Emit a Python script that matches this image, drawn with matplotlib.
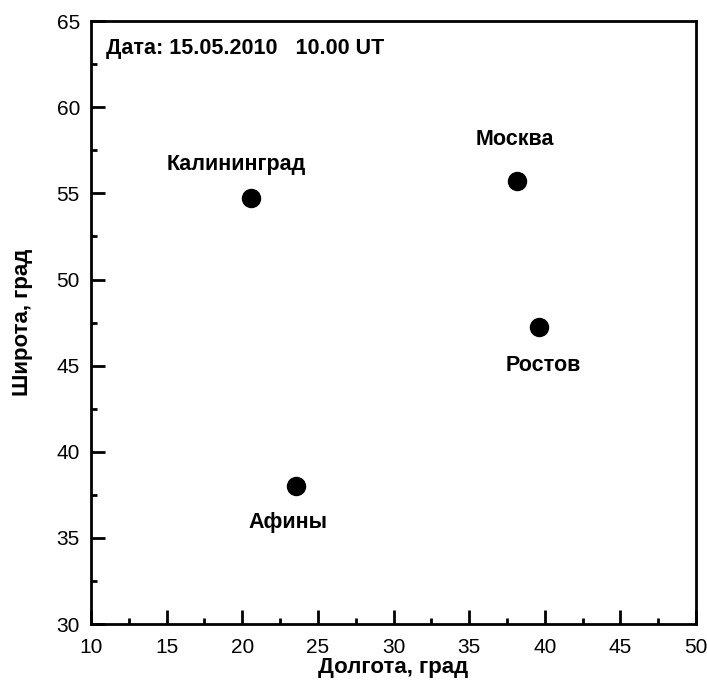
import matplotlib.pyplot as plt
from matplotlib.ticker import MultipleLocator

plt.rcParams['font.family'] = ['Liberation Sans', 'DejaVu Sans']

# cities: longitude, latitude
cities = ['Калининград', 'Москва', 'Ростов', 'Афины']
lon = [20.6, 38.15, 39.6, 23.55]
lat = [54.73, 55.7, 47.24, 38.0]
# label positions (data coords)
lab_x = [19.6, 38.0, 39.9, 23.0]
lab_y = [56.65, 58.1, 45.03, 35.9]

fig = plt.figure(figsize=(7.07, 6.82), dpi=100)
ax = fig.add_axes([0.1287, 0.085, 0.8558, 0.884])

ax.plot(lon, lat, 'o', color='black', markersize=13, linestyle='none')
for name, x, y in zip(cities, lab_x, lab_y):
    ax.text(x, y, name, ha='center', va='center', fontsize=15.5, fontweight='bold')

ax.text(11.0, 63.4, 'Дата: 15.05.2010   10.00 UT', ha='left', va='center',
        fontsize=15.5, fontweight='bold')

ax.set_xlim(10, 50)
ax.set_ylim(30, 65)
ax.xaxis.set_major_locator(MultipleLocator(5))
ax.xaxis.set_minor_locator(MultipleLocator(2.5))
ax.yaxis.set_major_locator(MultipleLocator(5))
ax.yaxis.set_minor_locator(MultipleLocator(2.5))
ax.tick_params(which='both', direction='in', top=False, right=False,
               width=2, labelsize=15)
ax.tick_params(which='major', length=10)
ax.tick_params(which='minor', length=4)
ax.tick_params(axis='x', pad=10)
ax.tick_params(axis='y', pad=8)
for s in ax.spines.values():
    s.set_linewidth(2)

ax.set_xlabel('Долгота, град', fontsize=16, fontweight='bold', labelpad=0)
ax.set_ylabel('Широта, град', fontsize=16, fontweight='bold', labelpad=17)

fig.savefig('out.png', dpi=100)
